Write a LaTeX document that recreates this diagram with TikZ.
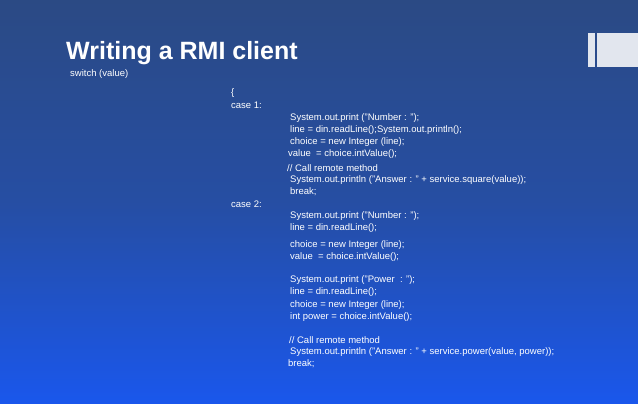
\documentclass[tikz,border=0pt]{standalone}
\usepackage{fontspec}
\setmainfont{Liberation Sans}
\begin{document}
\begin{tikzpicture}[x=1pt,y=-1pt,
  code/.style={anchor=west,inner sep=0pt,text=white,font=\fontsize{9.5}{11}\selectfont}]
\definecolor{topc}{HTML}{2B4A84}
\definecolor{botc}{HTML}{1A57EC}
\definecolor{barc}{HTML}{E2E6EE}
\shade[top color=topc,bottom color=botc,middle color=topc!70!botc] (0,0) rectangle (638,404);
\useasboundingbox (0,0) rectangle (638,404);
\fill[barc] (588,33) rectangle (595,67);
\fill[barc] (597,33) rectangle (638,67);
\node[anchor=west,inner sep=0pt,text=white,font=\bfseries\fontsize{25}{28}\selectfont] (title) at (66,53) {Writing a RMI client};
\node[code] (l0) at (70,74) {switch (value)};
\node[code] (l1) at (231,93) {\{};
\node[code] (l2) at (231,105) {case 1:};
\node[code] (l3) at (290,118) {System.out.print ("Number : ");};
\node[code] (l4) at (290,130) {line = din.readLine();System.out.println();};
\node[code] (l5) at (290,142) {choice = new Integer (line);};
\node[code] (l6) at (288,154) {value\ \ = choice.intValue();};
\node[code] (l7) at (287,168) {// Call remote method};
\node[code] (l8) at (290,180) {System.out.println ("Answer : " + service.square(value));};
\node[code] (l9) at (290,192) {break;};
\node[code] (l10) at (231,204) {case 2:};
\node[code] (l11) at (290,216) {System.out.print ("Number : ");};
\node[code] (l12) at (290,228) {line = din.readLine();};
\node[code] (l13) at (290,245) {choice = new Integer (line);};
\node[code] (l14) at (290,257) {value\ \ = choice.intValue();};
\node[code] (l15) at (290,280) {System.out.print ("Power\ \ : ");};
\node[code] (l16) at (290,292) {line = din.readLine();};
\node[code] (l17) at (290,305) {choice = new Integer (line);};
\node[code] (l18) at (290,317) {int power = choice.intValue();};
\node[code] (l19) at (289,340) {// Call remote method};
\node[code] (l20) at (290,352) {System.out.println ("Answer : " + service.power(value, power));};
\node[code] (l21) at (288,364) {break;};
\end{tikzpicture}
\end{document}
